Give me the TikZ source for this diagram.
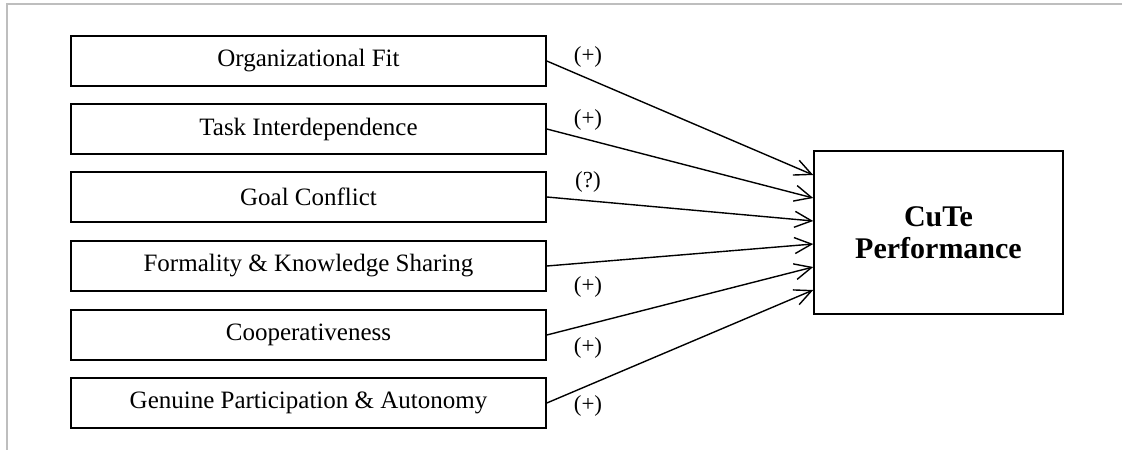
\documentclass[tikz,border=0pt]{standalone}
\usepackage{fontspec}
\setmainfont{Liberation Serif}
\usetikzlibrary{arrows.meta,calc}
\definecolor{framegray}{RGB}{190,190,190}
\tikzset{
  factor/.style={draw=black,line width=0.8pt,minimum width=237.5pt,minimum height=25pt,inner sep=0pt,
    font=\fontsize{12.5}{15}\selectfont},
  outcome/.style={draw=black,line width=0.8pt,minimum width=124.5pt,minimum height=81.5pt,inner sep=0pt,
    align=center,font=\fontsize{15}{16}\selectfont\bfseries},
  sign/.style={inner sep=0pt,font=\fontsize{11.5}{13}\selectfont},
  link/.style={line width=0.7pt,-{Straight Barb[length=8.5pt,width=8pt,line width=0.7pt]}},
  frameline/.style={draw=framegray,line width=1pt}
}
\begin{document}
\begin{tikzpicture}[x=0.5pt,y=-0.5pt]
\useasboundingbox (0,0) rectangle (1129,450);
\coordinate (fA) at (1122,4);
\coordinate (fB) at (7,4);
\coordinate (fC) at (7,450);
\draw[frameline] (fA) -- (fB) -- (fC);

\node[factor] (f1) at (308.5,61) {Organizational Fit};
\node[factor] (f2) at (308.5,129) {Task Interdependence};
\node[factor] (f3) at (308.5,197) {Goal Conflict};
\node[factor] (f4) at (308.5,266) {Formality \& Knowledge Sharing};
\node[factor] (f5) at (308.5,335) {Cooperativeness};
\node[factor] (f6) at (308.5,403) {Genuine Participation \& Autonomy};

\node[outcome] (cute) at (938.5,232.5) {CuTe\\Performance};

\coordinate (e1) at ($(cute.west)+(0,-57.5)$);
\coordinate (e2) at ($(cute.west)+(0,-34.5)$);
\coordinate (e3) at ($(cute.west)+(0,-11.5)$);
\coordinate (e4) at ($(cute.west)+(0,11.5)$);
\coordinate (e5) at ($(cute.west)+(0,34.5)$);
\coordinate (e6) at ($(cute.west)+(0,57.5)$);

\draw[link] (f1.east) -- (e1);
\draw[link] (f2.east) -- (e2);
\draw[link] (f3.east) -- (e3);
\draw[link] (f4.east) -- (e4);
\draw[link] (f5.east) -- (e5);
\draw[link] (f6.east) -- (e6);

\node[sign] (s1) at (588,57) {(+)};
\node[sign] (s2) at (588,120) {(+)};
\node[sign] (s3) at (588,182) {(?)};
\node[sign] (s4) at (588,287) {(+)};
\node[sign] (s5) at (588,348) {(+)};
\node[sign] (s6) at (588,406) {(+)};
\end{tikzpicture}
\end{document}
